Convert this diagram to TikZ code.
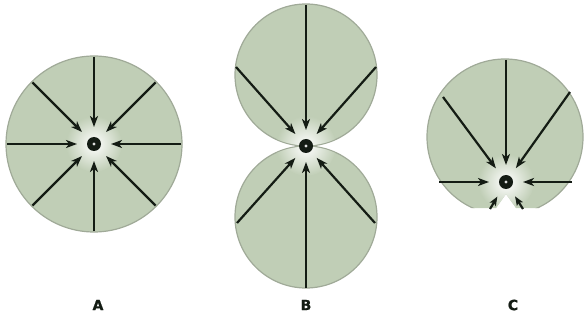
\documentclass[tikz,border=0pt]{standalone}
\usepackage{fontspec}
\newfontfamily\tagfont{DejaVu Sans Bold}[FakeBold=1.2]
\usepackage{tikz}
\usetikzlibrary{arrows.meta,calc}
\definecolor{disc}{RGB}{192,206,182}
\definecolor{rim}{RGB}{160,170,152}
\definecolor{ink}{RGB}{20,28,20}

\begin{document}
\begin{tikzpicture}[x=1pt,y=-1pt,
  disk/.style={fill=disc, draw=rim, line width=1.2pt},
  halo/.style={inner color=white, outer color=disc},
  hub/.style={circle, fill=ink, minimum size=14pt, inner sep=0pt, outer sep=10pt},
  ray/.style={ink, line width=2.2pt, -{Stealth[length=11pt,width=8pt,inset=3pt]}},
  tag/.style={font=\tagfont\fontsize{14}{14}\selectfont, text=ink}]
\useasboundingbox (0,0) rectangle (585,320);

% A
\coordinate (ca) at (94,144);
\draw[disk] (ca) circle (88);
\shade[halo] (ca) circle (28);
\node[hub] (hubA) at (ca) {};
\foreach \ang in {0,45,...,315}
  \coordinate (a\ang) at ($(ca)+(\ang:87)$);
\foreach \ang in {0,45,...,315}
  \draw[ray] (a\ang) -- (hubA);

% B
\coordinate (cb) at (306,146);
\draw[disk] (306,75) circle (71);
\draw[disk] (306,217) circle (71);
\begin{scope}
  \clip (306,75) circle (70.4) (306,217) circle (70.4);
  \shade[halo] (cb) circle (30);
\end{scope}
\node[hub, outer sep=9pt] (hubB) at (cb) {};
\coordinate (b1) at (306,5);
\coordinate (b2) at (236,67);
\coordinate (b3) at (376,67);
\coordinate (b4) at (306,288);
\coordinate (b5) at (237,223);
\coordinate (b6) at (375,223);
\foreach \i in {1,...,6}
  \draw[ray] (b\i) -- (hubB);

% C
\coordinate (cc) at (506,182);
\begin{scope}
  \clip (420,40) -- (590,40) -- (590,208) -- (516,208) -- (506,194)
    -- (496,208) -- (420,208) -- cycle;
  \draw[disk] (505,137) circle (78);
  \shade[halo] (cc) circle (28);
\end{scope}
\node[hub] (hubC) at (cc) {};
\coordinate (c1) at (506,60);
\coordinate (c2) at (443,97);
\coordinate (c3) at (570,92);
\coordinate (c4) at (439,182);
\coordinate (c5) at (572,182);
\foreach \i in {1,...,5}
  \draw[ray] (c\i) -- (hubC);
\coordinate (c6) at (490,209);
\coordinate (c7) at (523,209);
\draw[ray, -{Stealth[length=9pt,width=7pt,inset=2pt]}] (c6) -- (hubC);
\draw[ray, -{Stealth[length=9pt,width=7pt,inset=2pt]}] (c7) -- (hubC);

\foreach \h in {hubA,hubB,hubC}
  \fill[white!75!gray] (\h) circle (1.6);

\node[tag] (labA) at (98,305) {A};
\node[tag] (labB) at (306,305) {B};
\node[tag] (labC) at (513,305) {C};
\end{tikzpicture}
\end{document}
